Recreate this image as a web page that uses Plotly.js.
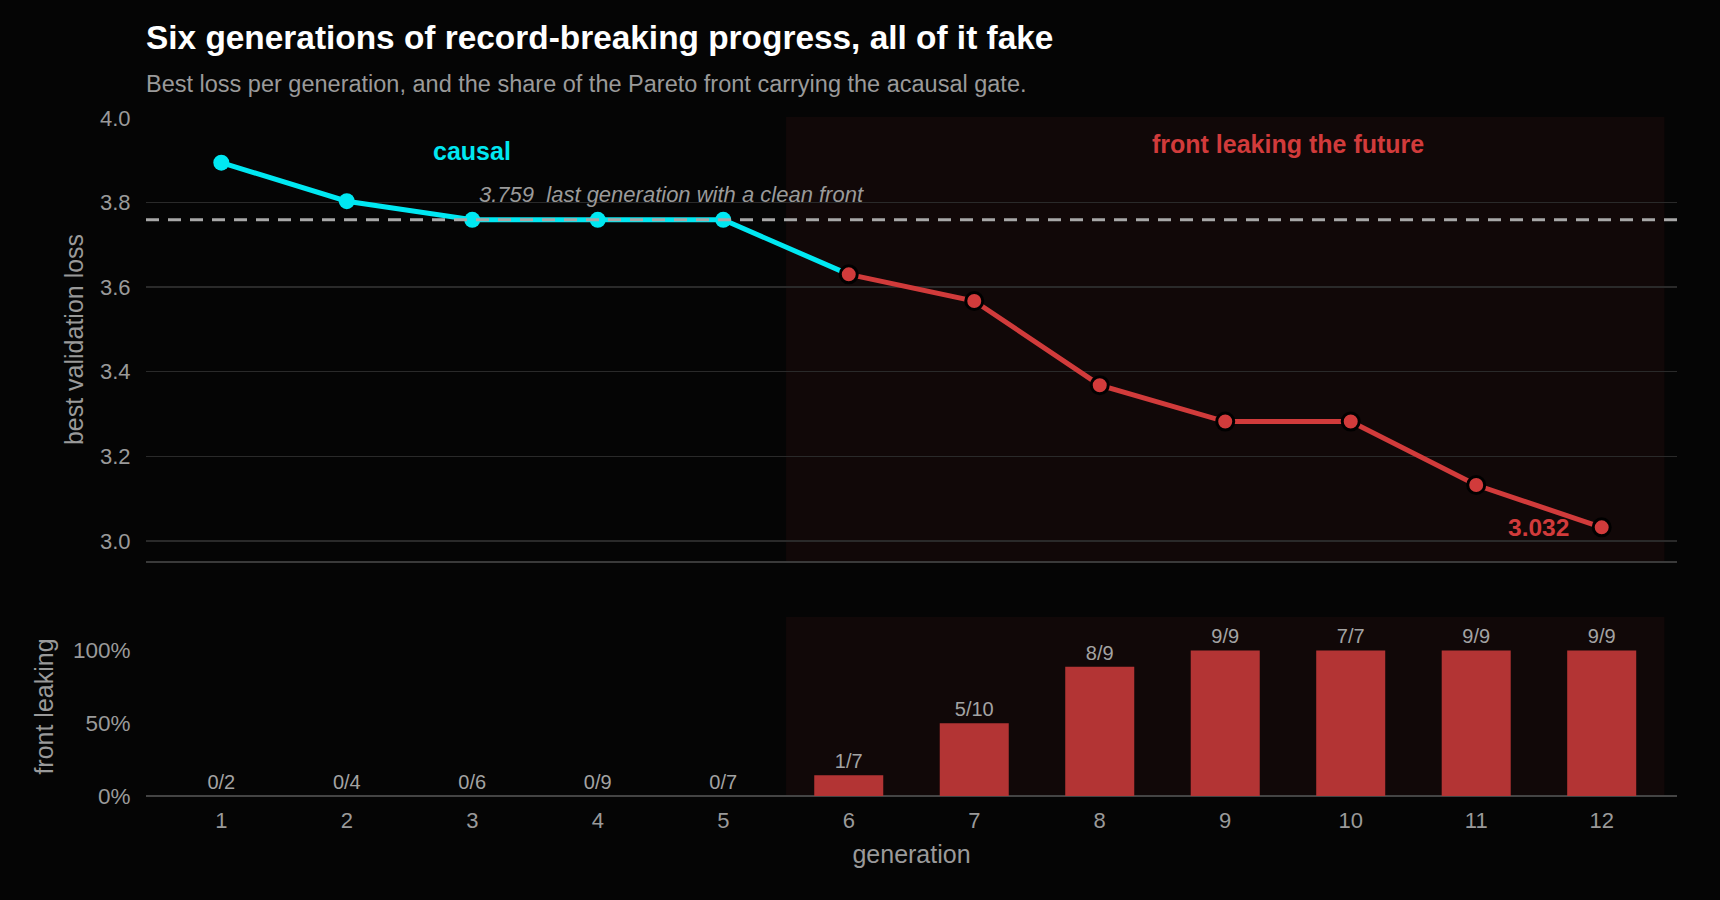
<!DOCTYPE html>
<html>
<head>
<meta charset="utf-8">
<script src="https://cdn.plot.ly/plotly-3.0.1.min.js"></script>
<style>
  html, body { margin: 0; padding: 0; background: #050505; }
  #chart { width: 1720px; height: 900px; }
</style>
</head>
<body>
<div id="chart"></div>
<script>
// ---- data ----
const generations = [1, 2, 3, 4, 5, 6, 7, 8, 9, 10, 11, 12];
const bestLoss = [3.894, 3.803, 3.759, 3.759, 3.759, 3.630, 3.567, 3.368, 3.282, 3.282, 3.132, 3.032];
const leakingCount = [0, 0, 0, 0, 0, 1, 5, 8, 9, 7, 9, 9];
const frontSize = [2, 4, 6, 9, 7, 7, 10, 9, 9, 7, 9, 9];
const lastCleanGen = 5;
const cleanLoss = 3.759;
const finalLoss = 3.032;

// ---- derived ----
const share = leakingCount.map((c, i) => c / frontSize[i]);
const shareText = leakingCount.map((c, i) => c + '/' + frontSize[i]);
const cleanIdx = generations.indexOf(lastCleanGen);

const CYAN = '#00e8f2';
const RED = '#d13b3b';
const BAR = '#b33434';
const SHADE = '#110808';
const FONT = '"Liberation Sans", Arial, sans-serif';
const TICK = '#9a9a9a';

const traces = [
  {
    x: generations.slice(0, cleanIdx + 2),
    y: bestLoss.slice(0, cleanIdx + 2),
    mode: 'lines', type: 'scatter',
    line: { color: CYAN, width: 5 },
    xaxis: 'x', yaxis: 'y', hoverinfo: 'skip'
  },
  {
    x: generations.slice(0, cleanIdx + 1),
    y: bestLoss.slice(0, cleanIdx + 1),
    mode: 'markers', type: 'scatter',
    marker: { color: CYAN, size: 16 },
    xaxis: 'x', yaxis: 'y', hoverinfo: 'skip'
  },
  {
    x: generations.slice(cleanIdx + 1),
    y: bestLoss.slice(cleanIdx + 1),
    mode: 'lines+markers', type: 'scatter',
    line: { color: RED, width: 5 },
    marker: { color: RED, size: 17, line: { color: '#000000', width: 3 } },
    xaxis: 'x', yaxis: 'y', hoverinfo: 'skip'
  },
  {
    x: generations, y: share, type: 'bar', width: 0.55,
    marker: { color: BAR },
    text: shareText, textposition: 'outside', cliponaxis: false,
    textfont: { color: '#a3a3a3', size: 20, family: FONT },
    xaxis: 'x2', yaxis: 'y2', hoverinfo: 'skip'
  }
];

const xr = [0.4, 12.6];
const layout = {
  width: 1720, height: 900,
  paper_bgcolor: '#050505', plot_bgcolor: '#050505',
  font: { family: FONT, color: TICK },
  showlegend: false,
  margin: { l: 146, r: 43, t: 117, b: 104 },
  title: {
    text: '<b>Six generations of record-breaking progress, all of it fake</b>',
    font: { size: 33.4, color: '#ffffff', family: FONT },
    xref: 'paper', x: 0, xanchor: 'left',
    yref: 'container', y: 0.959, yanchor: 'middle'
  },
  xaxis: {
    domain: [0, 1], range: xr, anchor: 'y',
    showticklabels: false, showgrid: false, zeroline: false, showline: false,
    matches: 'x2'
  },
  yaxis: {
    domain: [0.3446, 1], range: [2.95, 4.002],
    tickvals: [3.0, 3.2, 3.4, 3.6, 3.8, 4.0], ticktext: ['3.0', '3.2', '3.4', '3.6', '3.8', '4.0'],
    tickfont: { size: 22, color: TICK },
    ticks: 'outside', ticklen: 10, tickcolor: 'rgba(0,0,0,0)',
    gridcolor: '#2a2a2a', gridwidth: 1.5, zeroline: false,
    showline: false,
    title: { text: 'best validation loss', font: { size: 25, color: TICK }, standoff: 9 }
  },
  xaxis2: {
    domain: [0, 1], range: xr, anchor: 'y2',
    tickvals: generations, ticktext: generations.map(String),
    tickfont: { size: 22, color: TICK },
    ticks: 'outside', ticklen: 5, tickcolor: 'rgba(0,0,0,0)',
    showgrid: false, zeroline: false, showline: false,
    title: { text: 'generation', font: { size: 25, color: TICK }, standoff: 13 }
  },
  yaxis2: {
    domain: [0, 0.2636], range: [0, 1.23],
    tickvals: [0, 0.5, 1], ticktext: ['0%', '50%', '100%'],
    tickfont: { size: 22.5, color: TICK },
    ticks: 'outside', ticklen: 10, tickcolor: 'rgba(0,0,0,0)',
    showgrid: false, zeroline: true, zerolinecolor: '#444444', zerolinewidth: 2,
    showline: false,
    title: { text: 'front leaking', font: { size: 25, color: TICK }, standoff: 12 }
  },
  shapes: [
    { type: 'rect', layer: 'below', xref: 'x', yref: 'y domain',
      x0: lastCleanGen + 0.5, x1: generations[generations.length - 1] + 0.5, y0: 0, y1: 1,
      fillcolor: SHADE, line: { width: 0 } },
    { type: 'rect', layer: 'below', xref: 'x2', yref: 'y2 domain',
      x0: lastCleanGen + 0.5, x1: generations[generations.length - 1] + 0.5, y0: 0, y1: 1,
      fillcolor: SHADE, line: { width: 0 } },
    { type: 'line', layer: 'below', xref: 'paper', yref: 'y domain',
      x0: 0, x1: 1, y0: 0, y1: 0, line: { color: '#3a3a3a', width: 2 } },
    { type: 'line', layer: 'above', xref: 'paper', yref: 'y',
      x0: 0, x1: 1, y0: cleanLoss, y1: cleanLoss,
      line: { color: '#a8a8a8', width: 3, dash: '13px,9px' } }
  ],
  annotations: [
    { xref: 'paper', yref: 'paper', x: 0, y: 1.048, xanchor: 'left', yanchor: 'middle', xshift: -2,
      text: 'Best loss per generation, and the share of the Pareto front carrying the acausal gate.',
      showarrow: false, font: { size: 23.5, color: '#9a9a9a' } },
    { xref: 'x', yref: 'y', x: 3, y: 3.922, text: '<b>causal</b>', showarrow: false,
      xanchor: 'center', yanchor: 'middle', font: { size: 25, color: CYAN } },
    { xref: 'x', yref: 'y', x: 9.5, y: 3.939, text: '<b>front leaking the future</b>', showarrow: false,
      xanchor: 'center', yanchor: 'middle', font: { size: 25, color: RED } },
    { xref: 'x', yref: 'y', x: 3.057, y: 3.818, xshift: -2,
      text: '<i>' + cleanLoss.toFixed(3) + '  last generation with a clean front</i>', showarrow: false,
      xanchor: 'left', yanchor: 'middle', font: { size: 22, color: '#9a9a9a' } },
    { xref: 'x', yref: 'y', x: generations[generations.length - 1], y: finalLoss,
      text: '<b>' + finalLoss.toFixed(3) + '</b>', showarrow: false, xshift: -31,
      xanchor: 'right', yanchor: 'middle', font: { size: 24.5, color: RED } }
  ]
};

Plotly.newPlot('chart', traces, layout, { staticPlot: true, displayModeBar: false });
</script>
</body>
</html>
